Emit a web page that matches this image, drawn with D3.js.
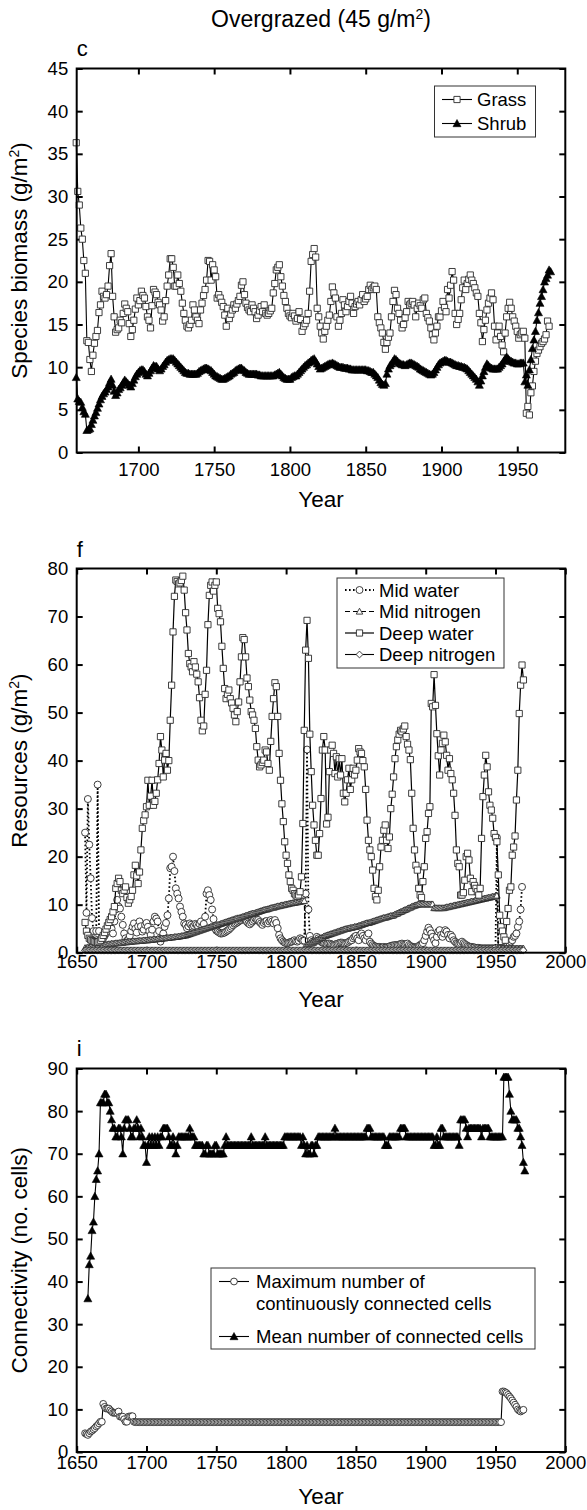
<!DOCTYPE html>
<html>
<head>
<meta charset="utf-8">
<script src="https://cdn.jsdelivr.net/npm/d3@7"></script>
<style>
    body { margin: 0; background: #fff; }
    svg { display: block; font-family: "Liberation Sans", Arial, Helvetica, sans-serif; fill: #000; }
    .tick text { font-size: 18.5px; fill: #000; }
    .tick line { stroke: #000; stroke-width: 2px; }
    .axis-title { font-size: 22.5px; }
    .panel-letter { font-size: 22px; }
    .legend text { font-size: 18.5px; }
</style>
</head>
<body>
<div id="chart"></div>
<script>

// ---- panel c : species biomass (g/m2), annual from 1659 ----
const biomassStart = 1659;
const grassBiomass = [
    36.3, 30.6, 29.0, 26.3, 25.0, 22.5, 21.0, 13.1, 12.9, 10.9,
    9.5, 11.4, 12.8, 13.6, 14.3, 16.4, 17.3, 18.9, 18.3, 18.1,
    18.5, 19.5, 21.9, 23.3, 18.3, 15.9, 14.1, 14.4, 14.6, 15.5,
    15.2, 16.3, 17.4, 16.9, 16.5, 15.1, 13.6, 14.4, 15.5, 16.8,
    18.1, 17.3, 17.8, 18.9, 18.4, 18.1, 17.1, 15.9, 15.5, 14.6,
    17.2, 19.1, 18.8, 18.5, 17.6, 17.3, 16.7, 15.4, 15.9, 17.8,
    19.5, 20.8, 22.7, 22.7, 21.7, 19.5, 19.5, 20.8, 19.8, 18.9,
    17.5, 16.3, 15.5, 14.8, 14.6, 15.0, 15.5, 17.3, 16.7, 15.9,
    15.5, 15.1, 16.7, 17.5, 18.4, 19.1, 20.2, 22.5, 22.4, 20.2,
    22.0, 21.4, 20.6, 18.1, 18.5, 18.1, 17.6, 17.1, 16.1, 14.8,
    16.9, 15.7, 16.2, 16.7, 17.3, 16.9, 17.4, 17.8, 18.3, 19.6,
    20.0, 18.5, 17.5, 17.0, 16.7, 16.5, 17.3, 16.9, 16.5, 15.7,
    16.1, 16.6, 17.1, 16.5, 17.3, 16.3, 16.1, 16.3, 16.6, 16.9,
    18.7, 19.8, 21.4, 21.7, 22.0, 20.6, 19.5, 18.4, 17.7, 16.9,
    16.3, 16.0, 15.8, 16.3, 16.0, 15.4, 15.7, 16.5, 15.6, 14.2,
    14.8, 15.1, 15.5, 16.3, 18.9, 22.4, 23.2, 23.9, 22.9, 16.9,
    15.9, 14.8, 14.0, 13.3, 14.2, 14.8, 15.5, 16.1, 17.7, 19.4,
    18.7, 18.1, 15.9, 14.8, 15.5, 16.3, 17.9, 17.3, 16.5, 17.1,
    17.7, 18.3, 17.5, 16.3, 17.1, 17.4, 17.7, 17.3, 17.9, 18.5,
    17.7, 18.0, 18.3, 19.1, 19.6, 19.1, 19.3, 19.5, 19.1, 15.9,
    15.2, 14.6, 14.0, 12.9, 12.1, 12.9, 13.5, 14.0, 15.9, 17.7,
    19.0, 18.5, 16.9, 16.3, 15.5, 14.6, 15.0, 15.8, 16.5, 17.7,
    17.3, 17.5, 17.7, 17.3, 15.9, 16.9, 17.5, 17.2, 16.9, 17.9,
    18.1, 16.3, 15.8, 15.4, 14.6, 13.8, 13.2, 14.0, 14.8, 15.9,
    15.9, 16.6, 17.7, 17.0, 16.5, 19.1, 18.1, 19.6, 21.2, 20.2,
    16.3, 15.0, 15.6, 16.3, 17.9, 19.3, 20.2, 19.1, 19.8, 20.3,
    20.8, 20.2, 19.8, 19.3, 18.7, 18.3, 16.3, 15.2, 13.0, 14.4,
    15.5, 16.7, 17.5, 18.1, 18.7, 17.9, 14.8, 13.2, 14.0, 14.8,
    13.6, 12.6, 11.8, 14.0, 15.9, 16.9, 17.6, 16.9, 15.9, 15.4,
    14.8, 14.2, 13.4, 13.8, 14.0, 14.2, 13.4, 4.6, 5.4, 4.4,
    7.0, 7.8, 9.5, 10.7, 11.6, 12.0, 12.4, 12.8, 13.0, 13.3,
    13.8, 15.4, 14.8
];
const shrubBiomass = [
    8.8, 6.3, 6.0, 5.9, 5.3, 4.8, 4.5, 2.6, 2.7, 2.8,
    3.3, 3.8, 4.3, 4.7, 5.2, 5.7, 6.2, 6.6, 6.9, 7.1,
    7.4, 7.7, 8.2, 8.6, 7.9, 7.2, 6.7, 7.0, 7.4, 7.6,
    7.9, 8.2, 8.5, 8.3, 8.1, 7.9, 7.7, 8.1, 8.5, 8.9,
    9.2, 9.4, 9.6, 9.7, 9.7, 9.5, 9.2, 9.0, 9.3, 9.6,
    9.9, 10.2, 10.1, 10.1, 9.8, 9.6, 9.8, 10.1, 10.3, 10.6,
    10.8, 10.9, 11.0, 11.0, 11.0, 10.8, 10.6, 10.4, 10.2, 10.0,
    9.8, 9.6, 9.4, 9.3, 9.3, 9.2, 9.2, 9.2, 9.2, 9.2,
    9.3, 9.5, 9.6, 9.7, 9.8, 9.9, 9.9, 9.8, 9.7, 9.6,
    9.4, 9.2, 9.0, 8.9, 8.8, 8.7, 8.6, 8.6, 8.7, 8.8,
    8.9, 9.0, 9.2, 9.3, 9.4, 9.6, 9.7, 9.8, 9.9, 9.9,
    9.7, 9.6, 9.4, 9.3, 9.2, 9.2, 9.2, 9.2, 9.2, 9.2,
    9.1, 9.1, 9.0, 9.0, 9.0, 9.0, 9.0, 9.0, 9.0, 9.0,
    9.0, 9.1, 9.2, 9.3, 9.4, 9.2, 9.0, 8.8, 8.7, 8.6,
    8.6, 8.6, 8.8, 8.9, 9.0, 9.0, 9.2, 9.4, 9.6, 9.8,
    10.0, 10.2, 10.3, 10.5, 10.6, 10.8, 10.9, 11.0, 10.7, 10.4,
    10.1, 9.8, 9.9, 10.0, 10.1, 10.2, 10.3, 10.4, 10.4, 10.5,
    10.4, 10.3, 10.2, 10.1, 10.0, 10.0, 10.0, 9.9, 9.9, 9.9,
    9.8, 9.8, 9.7, 9.7, 9.7, 9.7, 9.7, 9.7, 9.7, 9.7,
    9.7, 9.7, 9.6, 9.6, 9.5, 9.4, 9.4, 9.2, 9.0, 8.8,
    8.5, 8.2, 8.0, 7.9, 8.1, 9.2, 9.8, 10.2, 10.4, 10.7,
    11.0, 10.9, 10.7, 10.5, 10.4, 10.3, 10.3, 10.2, 10.3, 10.4,
    10.5, 10.5, 10.4, 10.3, 10.2, 10.1, 10.0, 9.8, 9.7, 9.6,
    9.5, 9.4, 9.3, 9.2, 9.1, 9.2, 9.4, 9.7, 10.0, 10.3,
    10.5, 10.6, 10.7, 10.8, 10.8, 10.7, 10.6, 10.6, 10.5, 10.4,
    10.3, 10.2, 10.2, 10.1, 10.1, 10.0, 10.0, 9.9, 9.8, 9.6,
    9.4, 9.2, 9.0, 8.8, 8.6, 8.3, 7.9, 8.4, 9.0, 9.5,
    10.0, 10.4, 10.2, 10.0, 9.9, 9.8, 9.8, 9.8, 9.8, 10.0,
    10.2, 10.4, 10.7, 11.0, 11.2, 11.0, 10.8, 10.7, 10.6, 10.5,
    10.5, 10.4, 10.4, 10.5, 10.5, 10.5, 8.3, 9.1, 7.9, 9.7,
    10.9, 12.2, 13.2, 14.2, 15.5, 16.4, 17.5, 18.3, 19.1, 20.0,
    20.4, 20.8, 21.4, 21.2
];

// ---- panel f : resources (g/m2), annual from 1656 ----
const resourceStart = 1656;
const midWater = [
    25.0, 8.3, 32.0, 22.5, 15.5, 7.2, 4.5, 2.8, 4.5, 35.0,
    4.5, 2.0, 2.5, 3.0, 3.5, 4.0, 4.5, 5.5, 6.0, 5.0,
    4.0, 6.5, 9.0, 11.0, 9.6, 9.2, 7.5, 5.8, 4.0, 3.0,
    2.5, 2.8, 3.5, 4.5, 5.4, 6.1, 5.0, 4.2, 5.5, 6.5,
    5.5, 4.4, 4.8, 5.8, 6.2, 5.4, 4.5, 3.7, 4.8, 6.5,
    7.5, 7.1, 6.5, 4.5, 2.3, 3.0, 4.0, 5.4, 6.2, 7.8,
    11.3, 17.6, 17.9, 20.0, 17.0, 13.4, 12.3, 11.3, 9.6, 8.5,
    7.5, 6.1, 5.8, 5.1, 5.5, 6.1, 5.8, 5.4, 5.6, 6.0,
    5.8, 5.4, 6.0, 6.5, 5.5, 6.0, 7.5, 12.3, 13.0, 12.0,
    11.0, 9.0, 7.0, 5.1, 4.6, 4.4, 4.2, 4.0, 4.0, 4.1,
    4.2, 4.4, 4.6, 4.8, 5.1, 5.4, 5.7, 6.0, 6.1, 6.3,
    6.5, 6.7, 6.8, 7.0, 7.1, 6.8, 6.4, 6.1, 5.9, 6.2,
    6.5, 6.8, 7.1, 6.9, 6.8, 6.4, 6.1, 5.8, 6.2, 6.5,
    6.6, 6.1, 6.5, 6.8, 6.5, 6.1, 6.8, 6.2, 5.1, 3.7,
    3.0, 2.6, 2.3, 2.1, 2.0, 2.0, 2.1, 2.2, 2.3, 2.4,
    2.6, 2.4, 2.3, 2.5, 3.0, 2.8, 2.5, 2.5, 12.3, 42.3,
    9.0, 3.5, 2.6, 2.3, 2.1, 2.6, 3.3, 3.0, 2.6, 2.3,
    2.1, 2.0, 1.9, 1.8, 1.9, 1.9, 1.8, 1.7, 1.6, 1.7,
    1.8, 1.9, 2.0, 2.1, 2.1, 2.0, 1.9, 2.0, 2.1, 2.3,
    2.5, 2.6, 3.0, 3.3, 3.5, 3.0, 2.6, 3.7, 4.0, 3.5,
    3.0, 2.6, 3.5, 4.0, 2.3, 1.9, 1.6, 1.4, 1.3, 1.2,
    1.2, 1.2, 1.1, 1.1, 1.2, 1.1, 1.1, 1.2, 1.3, 1.4,
    1.5, 1.5, 1.6, 1.6, 1.6, 1.7, 1.8, 1.9, 1.8, 1.7,
    1.8, 1.9, 1.6, 1.4, 1.2, 1.2, 1.1, 1.1, 1.2, 1.4,
    1.6, 1.8, 2.0, 2.6, 3.5, 4.4, 5.2, 4.7, 4.0, 3.3,
    2.6, 2.0, 3.3, 4.4, 4.7, 3.7, 3.3, 4.0, 4.7, 4.4,
    3.7, 3.0, 3.7, 3.3, 2.6, 2.3, 2.0, 1.9, 1.8, 2.0,
    2.3, 2.0, 1.8, 1.6, 1.4, 1.3, 1.2, 1.2, 1.1, 1.1,
    1.0, 1.0, 1.0, 0.9, 0.9, 0.9, 0.9, 0.9, 0.9, 0.9,
    0.9, 0.9, 0.9, 0.9, 0.9, 24.0, 1.0, 0.9, 1.0, 1.0,
    1.1, 1.2, 1.4, 1.6, 2.0, 2.3, 2.6, 3.3, 3.5, 4.0,
    5.4, 6.5, 9.0, 13.7
];
const midNitrogen = [
    1.0, 1.0, 1.1, 1.1, 1.2, 1.2, 1.2, 1.3, 1.3, 1.4,
    1.4, 1.5, 1.5, 1.6, 1.6, 1.7, 1.7, 1.8, 1.8, 1.9,
    1.9, 1.9, 2.0, 2.0, 2.0, 2.1, 2.1, 2.1, 2.2, 2.2,
    2.2, 2.3, 2.3, 2.3, 2.4, 2.4, 2.4, 2.4, 2.5, 2.5,
    2.5, 2.5, 2.6, 2.6, 2.6, 2.6, 2.7, 2.7, 2.7, 2.8,
    2.8, 2.8, 2.9, 2.9, 2.9, 3.0, 3.0, 3.0, 3.1, 3.1,
    3.1, 3.2, 3.2, 3.2, 3.3, 3.3, 3.3, 3.4, 3.4, 3.5,
    3.5, 3.6, 3.6, 3.7, 3.8, 3.9, 4.0, 4.1, 4.2, 4.3,
    4.4, 4.5, 4.6, 4.7, 4.8, 4.9, 5.0, 5.1, 5.2, 5.3,
    5.4, 5.5, 5.6, 5.7, 5.8, 5.8, 5.9, 6.0, 6.1, 6.2,
    6.3, 6.4, 6.5, 6.6, 6.7, 6.8, 6.9, 7.0, 7.1, 7.2,
    7.2, 7.3, 7.4, 7.5, 7.6, 7.7, 7.8, 7.9, 8.0, 8.1,
    8.2, 8.2, 8.3, 8.4, 8.5, 8.6, 8.7, 8.8, 8.9, 9.0,
    9.0, 9.1, 9.2, 9.3, 9.4, 9.4, 9.5, 9.6, 9.7, 9.7,
    9.8, 9.9, 9.9, 10.0, 10.1, 10.1, 10.2, 10.3, 10.3, 10.4,
    10.4, 10.5, 10.5, 10.6, 10.6, 10.7, 10.8, 10.8, 1.5, 1.6,
    1.8, 1.9, 2.0, 2.2, 2.3, 2.5, 2.6, 2.8, 2.9, 3.1,
    3.2, 3.4, 3.5, 3.6, 3.7, 3.8, 3.9, 4.0, 4.1, 4.2,
    4.3, 4.4, 4.5, 4.6, 4.7, 4.8, 4.9, 5.0, 5.0, 5.1,
    5.2, 5.2, 5.3, 5.4, 5.4, 5.5, 5.6, 5.7, 5.8, 5.9,
    6.0, 6.1, 6.2, 6.2, 6.3, 6.4, 6.5, 6.6, 6.7, 6.8,
    6.9, 7.0, 7.1, 7.2, 7.3, 7.3, 7.4, 7.5, 7.6, 7.7,
    7.7, 7.8, 8.0, 8.1, 8.2, 8.4, 8.5, 8.6, 8.8, 8.9,
    9.0, 9.2, 9.3, 9.4, 9.6, 9.7, 9.8, 9.9, 10.0, 10.1,
    10.1, 10.1, 10.1, 10.1, 10.1, 10.1, 10.1, 10.1, 10.1, 10.1,
    9.3, 9.3, 9.3, 9.3, 9.3, 9.3, 9.3, 9.3, 9.4, 9.5,
    9.5, 9.6, 9.7, 9.7, 9.8, 9.9, 9.9, 10.0, 10.1, 10.1,
    10.2, 10.3, 10.3, 10.4, 10.5, 10.5, 10.6, 10.7, 10.7, 10.8,
    10.9, 10.9, 11.0, 11.1, 11.1, 11.2, 11.3, 11.3, 11.4, 11.5,
    11.5, 11.6, 11.7, 11.7, 11.8, 11.9, 1.0, 1.0, 0.9, 0.9,
    0.9, 0.9, 0.9, 0.9, 0.9, 0.9, 0.9, 0.9, 0.9, 0.9,
    0.9, 0.9, 0.9, 0.9, 0.9
];
const deepWater = [
    6.3, 4.5, 3.6, 3.0, 2.7, 2.5, 2.4, 2.3, 2.2, 2.2,
    2.3, 2.6, 3.0, 3.6, 4.2, 4.9, 5.6, 6.3, 6.9, 7.5,
    8.5, 9.6, 13.4, 14.4, 15.5, 14.8, 13.0, 12.3, 13.0, 13.7,
    11.5, 10.3, 11.0, 11.7, 13.0, 16.2, 18.2, 16.0, 14.4, 16.8,
    21.4, 25.9, 27.5, 28.7, 30.4, 35.9, 30.7, 32.6, 35.9, 30.7,
    31.5, 33.2, 36.0, 39.4, 45.0, 42.2, 36.6, 40.1, 41.5, 38.0,
    40.0, 48.4, 55.7, 66.8, 74.2, 77.6, 77.3, 76.8, 77.0, 77.5,
    78.4, 75.5, 70.8, 67.2, 62.3, 60.2, 59.5, 58.5, 60.6, 59.5,
    58.0, 56.4, 53.1, 48.4, 46.2, 47.2, 53.8, 58.8, 68.3, 74.4,
    76.5, 77.2, 75.3, 76.5, 77.2, 71.7, 70.6, 68.9, 63.8, 59.2,
    55.0, 52.9, 53.8, 54.7, 52.9, 52.0, 50.9, 49.5, 48.1, 50.2,
    52.2, 56.4, 61.6, 65.6, 65.2, 61.6, 57.2, 55.4, 52.6, 50.2,
    49.5, 48.4, 46.7, 42.9, 40.1, 38.7, 39.1, 39.6, 40.1, 42.2,
    41.8, 39.4, 38.0, 44.0, 49.2, 52.9, 56.2, 55.4, 49.2, 41.5,
    35.9, 31.0, 27.3, 23.1, 20.3, 18.6, 16.2, 14.8, 13.4, 13.0,
    12.3, 12.0, 11.7, 12.0, 12.7, 15.8, 26.9, 46.3, 63.0, 69.2,
    61.3, 45.5, 37.7, 30.7, 26.6, 23.4, 20.3, 20.3, 24.8, 32.1,
    42.2, 45.0, 42.2, 26.8, 28.2, 37.7, 42.2, 43.2, 41.5, 37.3,
    40.8, 36.6, 40.4, 37.0, 40.4, 33.2, 31.4, 33.2, 36.0, 38.4,
    34.0, 36.0, 38.4, 37.0, 38.0, 40.1, 42.5, 41.8, 41.5, 40.0,
    38.7, 34.0, 27.6, 23.4, 21.4, 20.0, 17.2, 13.4, 11.7, 11.0,
    13.0, 17.9, 22.0, 23.4, 25.5, 26.6, 23.4, 21.7, 24.1, 30.0,
    33.0, 36.6, 40.4, 42.9, 44.3, 45.5, 46.3, 46.0, 46.6, 47.2,
    45.0, 43.4, 42.2, 40.2, 33.2, 25.9, 21.4, 18.2, 17.2, 13.4,
    12.0, 11.5, 14.8, 17.9, 23.8, 25.2, 29.0, 30.4, 51.9, 51.2,
    57.9, 51.5, 45.6, 41.0, 37.0, 42.2, 43.6, 45.3, 43.9, 41.1,
    38.0, 40.4, 37.3, 36.0, 33.2, 28.6, 21.4, 18.6, 17.9, 12.0,
    12.0, 12.5, 15.1, 20.0, 20.7, 19.3, 15.5, 12.7, 14.8, 14.0,
    13.4, 12.7, 12.0, 13.4, 23.8, 32.5, 37.0, 41.1, 38.7, 33.5,
    30.7, 29.7, 28.0, 24.8, 24.0, 23.1, 16.2, 7.8, 5.4, 4.5,
    3.3, 2.6, 6.5, 9.2, 13.0, 13.7, 20.3, 22.0, 24.3, 31.8,
    38.0, 49.8, 55.7, 59.9, 56.8
];
const deepNitrogen = [
    0.5, 0.5, 0.5, 0.5, 0.5, 0.5, 0.5, 0.5, 0.5, 0.5,
    0.5, 0.5, 0.5, 0.5, 0.5, 0.5, 0.5, 0.5, 0.5, 0.5,
    0.5, 0.5, 0.5, 0.5, 0.5, 0.5, 0.5, 0.5, 0.5, 0.5,
    0.5, 0.5, 0.5, 0.5, 0.5, 0.5, 0.5, 0.5, 0.5, 0.5,
    0.5, 0.5, 0.5, 0.5, 0.5, 0.5, 0.5, 0.5, 0.5, 0.5,
    0.5, 0.5, 0.5, 0.5, 0.5, 0.5, 0.5, 0.5, 0.5, 0.5,
    0.5, 0.5, 0.5, 0.5, 0.5, 0.5, 0.5, 0.5, 0.5, 0.5,
    0.5, 0.5, 0.5, 0.5, 0.5, 0.5, 0.5, 0.5, 0.5, 0.5,
    0.5, 0.5, 0.5, 0.5, 0.5, 0.5, 0.5, 0.5, 0.5, 0.5,
    0.5, 0.5, 0.5, 0.5, 0.5, 0.5, 0.5, 0.5, 0.5, 0.5,
    0.5, 0.5, 0.5, 0.5, 0.5, 0.5, 0.5, 0.5, 0.5, 0.5,
    0.5, 0.5, 0.5, 0.5, 0.5, 0.5, 0.5, 0.5, 0.5, 0.5,
    0.5, 0.5, 0.5, 0.5, 0.5, 0.5, 0.5, 0.5, 0.5, 0.5,
    0.5, 0.5, 0.5, 0.5, 0.5, 0.5, 0.5, 0.5, 0.5, 0.5,
    0.5, 0.5, 0.5, 0.5, 0.5, 0.5, 0.5, 0.5, 0.5, 0.5,
    0.5, 0.5, 0.5, 0.5, 0.5, 0.5, 0.5, 0.5, 0.5, 0.5,
    0.5, 0.5, 0.5, 0.5, 0.5, 0.5, 0.5, 0.5, 0.5, 0.5,
    0.5, 0.5, 0.5, 0.5, 0.5, 0.5, 0.5, 0.5, 0.5, 0.5,
    0.5, 0.5, 0.5, 0.5, 0.5, 0.5, 0.5, 0.5, 0.5, 0.5,
    0.5, 0.5, 0.5, 0.5, 0.5, 0.5, 0.5, 0.5, 0.5, 0.5,
    0.5, 0.5, 0.5, 0.5, 0.5, 0.5, 0.5, 0.5, 0.5, 0.5,
    0.5, 0.5, 0.5, 0.5, 0.5, 0.5, 0.5, 0.5, 0.5, 0.5,
    0.5, 0.5, 0.5, 0.5, 0.5, 0.5, 0.5, 0.5, 0.5, 0.5,
    0.5, 0.5, 0.5, 0.5, 0.5, 0.5, 0.5, 0.5, 0.5, 0.5,
    0.5, 0.5, 0.5, 0.5, 0.5, 0.5, 0.5, 0.5, 0.5, 0.5,
    0.5, 0.5, 0.5, 0.5, 0.5, 0.5, 0.5, 0.5, 0.5, 0.5,
    0.5, 0.5, 0.5, 0.5, 0.5, 0.5, 0.5, 0.5, 0.5, 0.5,
    0.5, 0.5, 0.5, 0.5, 0.5, 0.5, 0.5, 0.5, 0.5, 0.5,
    0.5, 0.5, 0.5, 0.5, 0.5, 0.5, 0.5, 0.5, 0.5, 0.5,
    0.5, 0.5, 0.5, 0.5, 0.5, 0.5, 0.5, 0.5, 0.5, 0.5,
    0.5, 0.5, 0.5, 0.5, 0.5, 0.5, 0.5, 0.5, 0.5, 0.5,
    0.5, 0.5, 0.5, 0.5, 0.5
];

// ---- panel i : connectivity (no. cells) ----
const maxConnectedStart = 1656;
const maxConnected = [
    4.4, 4.2, 4.0, 4.4, 4.8, 5.0, 5.3, 5.6, 6.0, 6.3,
    6.7, 7.1, 7.1, 11.3, 10.6, 10.2, 10.2, 10.2, 9.8, 9.5,
    9.2, 9.2, 9.2, 9.2, 9.5, 8.3, 8.3, 8.3, 7.7, 7.1,
    7.1, 8.3, 8.3, 8.4, 8.4, 7.1, 7, 7, 7, 7,
    7, 7, 7, 7, 7, 7, 7, 7, 7, 7,
    7, 7, 7, 7, 7, 7, 7, 7, 7, 7,
    7, 7, 7, 7, 7, 7, 7, 7, 7, 7,
    7, 7, 7, 7, 7, 7, 7, 7, 7, 7,
    7, 7, 7, 7, 7, 7, 7, 7, 7, 7,
    7, 7, 7, 7, 7, 7, 7, 7, 7, 7,
    7, 7, 7, 7, 7, 7, 7, 7, 7, 7,
    7, 7, 7, 7, 7, 7, 7, 7, 7, 7,
    7, 7, 7, 7, 7, 7, 7, 7, 7, 7,
    7, 7, 7, 7, 7, 7, 7, 7, 7, 7,
    7, 7, 7, 7, 7, 7, 7, 7, 7, 7,
    7, 7, 7, 7, 7, 7, 7, 7, 7, 7,
    7, 7, 7, 7, 7, 7, 7, 7, 7, 7,
    7, 7, 7, 7, 7, 7, 7, 7, 7, 7,
    7, 7, 7, 7, 7, 7, 7, 7, 7, 7,
    7, 7, 7, 7, 7, 7, 7, 7, 7, 7,
    7, 7, 7, 7, 7, 7, 7, 7, 7, 7,
    7, 7, 7, 7, 7, 7, 7, 7, 7, 7,
    7, 7, 7, 7, 7, 7, 7, 7, 7, 7,
    7, 7, 7, 7, 7, 7, 7, 7, 7, 7,
    7, 7, 7, 7, 7, 7, 7, 7, 7, 7,
    7, 7, 7, 7, 7, 7, 7, 7, 7, 7,
    7, 7, 7, 7, 7, 7, 7, 7, 7, 7,
    7, 7, 7, 7, 7, 7, 7, 7, 7, 7,
    7, 7, 7, 7, 7, 7, 7, 7, 7, 7,
    7, 7, 7, 7, 7, 7, 7, 7, 7, 14.2,
    14.2, 14.0, 13.8, 13.4, 13.0, 12.6, 12.1, 11.6, 11.1, 10.6,
    10.0, 9.7, 9.5, 9.7, 9.9
];
const meanConnectedStart = 1658;
const meanConnected = [
    36, 44, 46, 52, 54, 60, 64, 66, 70, 82,
    82, 82, 84, 84, 82, 82, 80, 78, 76, 76,
    74, 74, 76, 76, 74, 70, 76, 78, 78, 78,
    76, 74, 74, 76, 76, 78, 76, 74, 76, 74,
    72, 72, 68, 72, 74, 72, 74, 72, 74, 72,
    74, 72, 74, 74, 76, 76, 76, 76, 74, 72,
    72, 74, 72, 70, 72, 74, 74, 74, 74, 74,
    74, 74, 74, 76, 74, 74, 74, 72, 72, 72,
    72, 72, 72, 70, 70, 72, 72, 70, 70, 70,
    70, 72, 72, 70, 70, 70, 70, 70, 72, 74,
    72, 72, 72, 72, 72, 72, 72, 72, 72, 72,
    72, 72, 72, 72, 72, 72, 72, 74, 72, 72,
    72, 72, 72, 72, 72, 72, 72, 74, 72, 72,
    72, 72, 72, 72, 72, 72, 72, 72, 72, 72,
    72, 74, 74, 74, 74, 74, 74, 74, 74, 74,
    74, 74, 74, 72, 74, 72, 70, 72, 70, 70,
    72, 72, 70, 72, 72, 74, 74, 74, 74, 74,
    74, 74, 74, 74, 74, 74, 74, 76, 74, 74,
    74, 74, 74, 74, 74, 74, 74, 74, 74, 74,
    74, 74, 74, 74, 74, 74, 74, 74, 74, 74,
    76, 76, 76, 74, 74, 74, 74, 74, 74, 74,
    74, 74, 74, 72, 72, 72, 74, 74, 74, 74,
    74, 74, 74, 74, 76, 76, 76, 76, 74, 74,
    74, 74, 74, 74, 74, 74, 74, 74, 74, 74,
    74, 74, 74, 74, 74, 74, 74, 74, 72, 72,
    74, 72, 72, 76, 76, 74, 74, 74, 74, 74,
    74, 74, 74, 74, 74, 74, 72, 78, 78, 78,
    78, 76, 74, 76, 76, 76, 76, 76, 76, 76,
    76, 76, 74, 76, 76, 76, 76, 76, 74, 74,
    74, 74, 74, 74, 74, 74, 74, 74, 88, 88,
    88, 88, 84, 80, 78, 78, 78, 78, 76, 76,
    74, 72, 68, 66
];

// ---- tick labels ----
const biomassYearTicks = [1700, 1750, 1800, 1850, 1900, 1950];
const resourceYearTicks = [1650, 1700, 1750, 1800, 1850, 1900, 1950, 2000];
const biomassTicks = [0, 5, 10, 15, 20, 25, 30, 35, 40, 45];
const resourceTicks = [0, 10, 20, 30, 40, 50, 60, 70, 80];
const connectivityTicks = [0, 10, 20, 30, 40, 50, 60, 70, 80, 90];


const FRAME = {left: 76.7, right: 565.3, mid: 321};

// marker outlines, centred on the data point
function markerPath(type, s) {
    let h = s / 2;
    if (type === "square") return `M${-h},${-h}h${s}v${s}h${-s}Z`;
    if (type === "triangle") return `M0,${-h}L${h},${h * 0.8}L${-h},${h * 0.8}Z`;
    if (type === "diamond") return `M0,${-h}L${h},0L0,${h}L${-h},0Z`;
    // circle
    return `M${-h},0a${h},${h} 0 1,0 ${s},0a${h},${h} 0 1,0 ${-s},0`;
}

class PanelChart {
    constructor(svg, config) {
        this.svg = svg;
        this.config = config;
        this.initVis();
    }

    initVis() {
        let vis = this;
        let c = vis.config;

        vis.x = d3.scaleLinear().domain(c.xDomain).range([FRAME.left, FRAME.right]);
        vis.y = d3.scaleLinear().domain(c.yDomain).range([c.bottom, c.top]);

        vis.g = vis.svg.append("g").attr("class", "panel");

        // axes: ticks pointing inward, on all four sides
        vis.g.append("g")
            .attr("transform", "translate(0," + c.bottom + ")")
            .call(d3.axisBottom(vis.x).tickValues(c.xTicks).tickFormat(d3.format("d"))
                .tickSizeInner(-6).tickSizeOuter(0).tickPadding(c.xPad))
            .call(g => g.select(".domain").remove());
        vis.g.append("g")
            .attr("transform", "translate(0," + c.top + ")")
            .call(d3.axisTop(vis.x).tickValues(c.xTicks).tickSizeInner(-6).tickSizeOuter(0).tickFormat(""))
            .call(g => g.select(".domain").remove());
        vis.g.append("g")
            .attr("transform", "translate(" + FRAME.left + ",0)")
            .call(d3.axisLeft(vis.y).tickValues(c.yTicks).tickFormat(d3.format("d"))
                .tickSizeInner(-6).tickSizeOuter(0).tickPadding(8.5))
            .call(g => g.select(".domain").remove());
        vis.g.append("g")
            .attr("transform", "translate(" + FRAME.right + ",0)")
            .call(d3.axisRight(vis.y).tickValues(c.yTicks).tickSizeInner(-6).tickSizeOuter(0).tickFormat(""))
            .call(g => g.select(".domain").remove());

        vis.g.selectAll(".tick text").attr("font-family", null).attr("font-size", null);

        // series
        c.series.forEach(s => vis.drawSeries(s));

        // frame
        vis.g.append("rect")
            .attr("x", FRAME.left).attr("y", c.top)
            .attr("width", FRAME.right - FRAME.left).attr("height", c.bottom - c.top)
            .attr("fill", "none").attr("stroke", "#000").attr("stroke-width", 2);

        // labels
        vis.g.append("text").attr("class", "panel-letter")
            .attr("x", FRAME.left).attr("y", c.letterY).text(c.letter);

        vis.g.append("text").attr("class", "axis-title")
            .attr("x", FRAME.mid).attr("y", c.xTitleY)
            .attr("text-anchor", "middle").text("Year");

        let yt = vis.g.append("text").attr("class", "axis-title")
            .attr("text-anchor", "middle")
            .attr("transform", "translate(27," + (c.top + c.bottom) / 2 + ") rotate(-90)");
        yt.append("tspan").text(c.yTitle[0]);
        if (c.yTitle.length > 1) {
            yt.append("tspan").attr("font-size", "14px").attr("dy", -8).text(c.yTitle[1]);
            yt.append("tspan").attr("dy", 8).text(c.yTitle[2]);
        }

        vis.drawLegend();
    }

    drawSeries(s) {
        let vis = this;
        let pts = s.values.map((v, i) => ({year: s.start + i, value: v}));

        let line = d3.line()
            .x(d => vis.x(d.year))
            .y(d => vis.y(d.value));

        vis.g.append("path")
            .datum(pts)
            .attr("d", line)
            .attr("fill", "none")
            .attr("stroke", "#000")
            .attr("stroke-width", s.lineWidth)
            .attr("stroke-dasharray", s.dash);

        vis.g.append("g").selectAll("path")
            .data(pts)
            .enter()
            .append("path")
            .attr("transform", d => "translate(" + vis.x(d.year) + "," + vis.y(d.value) + ")")
            .attr("d", markerPath(s.marker, s.size))
            .attr("fill", s.filled ? "#000" : "#fff")
            .attr("stroke", s.filled ? "#000" : "#2a2a2a")
            .attr("stroke-width", s.filled ? 0.6 : 0.9);
    }

    drawLegend() {
        let vis = this;
        let L = vis.config.legend;

        let lg = vis.g.append("g").attr("class", "legend");
        lg.append("rect")
            .attr("x", L.x).attr("y", L.y).attr("width", L.w).attr("height", L.h)
            .attr("fill", "#fff").attr("stroke", "#333").attr("stroke-width", 1);

        vis.config.series.forEach((s, i) => {
            let cy = L.rowY[i];
            lg.append("line")
                .attr("x1", L.lineX[0]).attr("x2", L.lineX[1])
                .attr("y1", cy).attr("y2", cy)
                .attr("stroke", "#000").attr("stroke-width", s.lineWidth)
                .attr("stroke-dasharray", s.dash);
            lg.append("path")
                .attr("transform", "translate(" + (L.lineX[0] + L.lineX[1]) / 2 + "," + cy + ")")
                .attr("d", markerPath(s.marker, s.size))
                .attr("fill", s.filled ? "#000" : "#fff")
                .attr("stroke", s.filled ? "#000" : "#2a2a2a")
                .attr("stroke-width", s.filled ? 0.6 : 0.9);
            let t = lg.append("text").attr("x", L.textX).attr("y", cy + 6.5);
            s.label.forEach((part, j) => {
                t.append("tspan").attr("x", L.textX).attr("dy", j === 0 ? 0 : L.lineGap).text(part);
            });
        });
    }
}


let svg = d3.select("#chart").append("svg")
    .attr("width", 587)
    .attr("height", 1510);

let title = svg.append("text")
    .attr("x", FRAME.mid).attr("y", 27)
    .attr("text-anchor", "middle")
    .style("font-size", "23px");
title.append("tspan").text("Overgrazed (45 g/m");
title.append("tspan").attr("font-size", "14px").attr("dy", -8).text("2");
title.append("tspan").attr("dy", 8).text(")");

new PanelChart(svg, {
    letter: "c", letterY: 56,
    top: 68.5, bottom: 452.5,
    xDomain: [1659.3, 1981.7], yDomain: [0, 45],
    xTicks: biomassYearTicks, yTicks: biomassTicks,
    xPad: 10, xTitleY: 507,
    yTitle: ["Species biomass (g/m", "2", ")"],
    series: [
        {label: ["Grass"], start: biomassStart, values: grassBiomass, marker: "square", size: 6.2, lineWidth: 1.1},
        {label: ["Shrub"], start: biomassStart, values: shrubBiomass, marker: "triangle", size: 8, filled: true, lineWidth: 1.1}
    ],
    legend: {x: 434.5, y: 86, w: 101, h: 51, rowY: [99.5, 123.5], lineX: [442, 472], textX: 477}
});

new PanelChart(svg, {
    letter: "f", letterY: 557,
    top: 568.5, bottom: 952.7,
    xDomain: [1650, 2000], yDomain: [0, 80],
    xTicks: resourceYearTicks, yTicks: resourceTicks,
    xPad: 2.5, xTitleY: 1007,
    yTitle: ["Resources (g/m", "2", ")"],
    series: [
        {label: ["Mid water"], start: resourceStart, values: midWater, marker: "circle", size: 7, lineWidth: 1.8, dash: "1.6,2.4"},
        {label: ["Mid nitrogen"], start: resourceStart, values: midNitrogen, marker: "triangle", size: 6.5, lineWidth: 1.2, dash: "5,3"},
        {label: ["Deep water"], start: resourceStart, values: deepWater, marker: "square", size: 6.2, lineWidth: 1.2},
        {label: ["Deep nitrogen"], start: resourceStart, values: deepNitrogen, marker: "diamond", size: 6.8, lineWidth: 1.1}
    ],
    legend: {x: 337, y: 578, w: 167, h: 90, rowY: [590, 611.5, 633, 654.5], lineX: [345, 374], textX: 379}
});

new PanelChart(svg, {
    letter: "i", letterY: 1056,
    top: 1068.5, bottom: 1452,
    xDomain: [1650, 2000], yDomain: [0, 90],
    xTicks: resourceYearTicks, yTicks: connectivityTicks,
    xPad: 3.5, xTitleY: 1504,
    yTitle: ["Connectivity (no. cells)"],
    series: [
        {label: ["Maximum number of", "continuously connected cells"], start: maxConnectedStart, values: maxConnected, marker: "circle", size: 6.8, lineWidth: 1.1},
        {label: ["Mean number of connected cells"], start: meanConnectedStart, values: meanConnected, marker: "triangle", size: 8, filled: true, lineWidth: 1.1}
    ],
    legend: {x: 211, y: 1268, w: 324, h: 81, rowY: [1281.5, 1336.5], lineX: [219, 249], textX: 256, lineGap: 21.5}
});

</script>
</body>
</html>
